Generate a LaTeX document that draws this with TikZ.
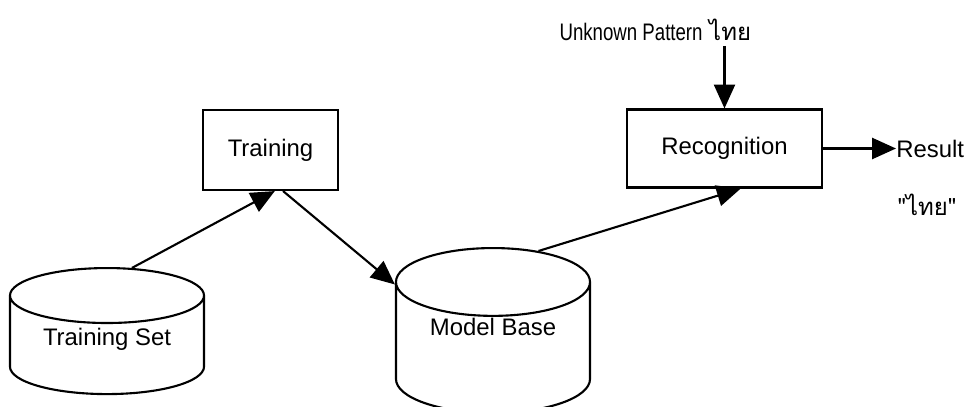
\documentclass[tikz,border=0pt]{standalone}
\usepackage{fontspec}
\usepackage{graphicx}
\setmainfont{Liberation Sans}
\newfontfamily\thaifont[Script=Thai]{Loma}
\usetikzlibrary{arrows.meta,positioning,shapes.geometric}

\tikzset{
  procbox/.style={draw, line width=1.5pt, minimum width=#1, minimum height=1.95cm},
  store/.style={draw, line width=1.5pt, cylinder, shape border rotate=90, minimum width=4.85cm, anchor=top},
  flow/.style={-{Triangle[length=17pt,width=15pt]}, line width=1.5pt}
}

\begin{document}
\begin{tikzpicture}[x=0.025cm, y=-0.025cm, every node/.style={font=\fontsize{17}{20}\selectfont}]
\useasboundingbox (0,0) rectangle (980,407);
% processing steps
\node[procbox=3.38cm, minimum height=2cm] (train) at (270.5,150) {Training};
\node[procbox=4.88cm] (recog) at (724.5,148.5) {Recognition};
% data stores, placed by the top of the lid; names lifted without changing the box size
\node[store, aspect=0.4, minimum height=3.15cm] (tset) at (107,267) {\raisebox{0.25cm}[\height][\depth]{Training Set}};
\node[store, aspect=0.5, minimum height=4.12cm] (mbase) at (493,247) {\raisebox{0.65cm}[\height][\depth]{Model Base}};
% input and output texts
\node[anchor=east] (unknown) at (756,30) {\scalebox{0.78}[1]{Unknown Pattern} {\thaifont ไทย}};
\node[anchor=west, inner sep=0pt] (result) at (896,148.5) {Result};
\node (quoted) at (927,205) {\thaifont "ไทย"};
% connectors
\draw[flow] (tset.73) -- (train.-84);
\draw[flow] (train.-73) -- (mbase.145);
\draw[flow] (mbase.66) -- (recog.-68);
\draw[flow] (unknown.south -| recog.north) -- (recog.north);
\draw[flow] (recog.east) -- (result.west);
\end{tikzpicture}
\end{document}
